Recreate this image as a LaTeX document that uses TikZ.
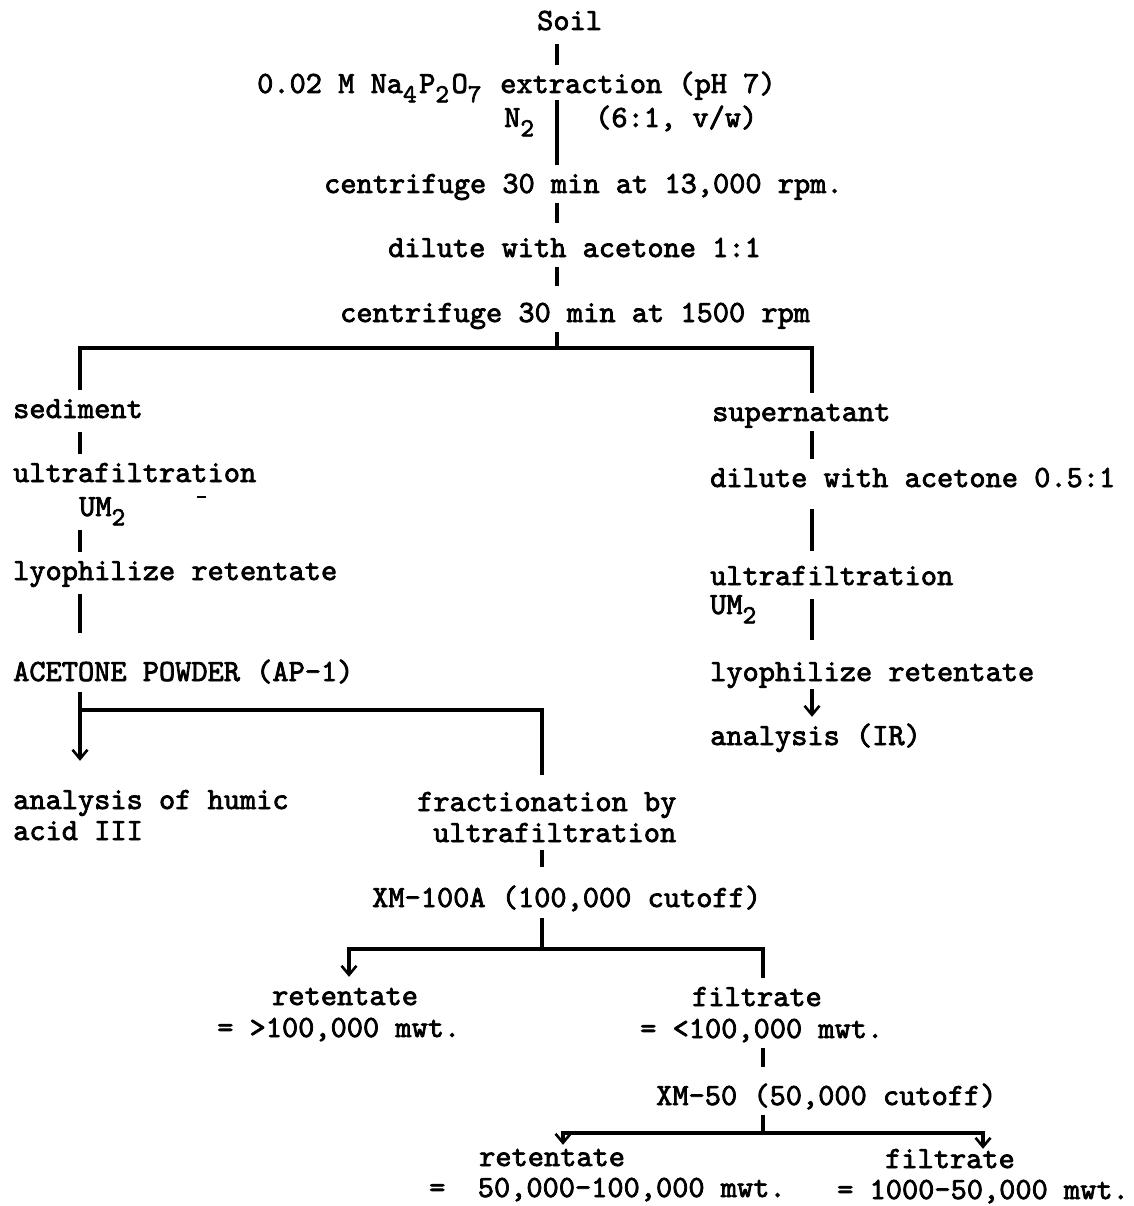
\documentclass[tikz,border=0pt]{standalone}
\usepackage{fontspec}
\newfontfamily\tw{lmmono10-regular.otf}[FakeBold=2.4]
\usetikzlibrary{arrows.meta}
% typewriter-style subscript: lowered, one full character cell wide
\newcommand\dn[1]{\raisebox{-0.3em}{\makebox[0.525em][l]{\fontsize{26}{26}\selectfont #1}}}
\begin{document}
\begin{tikzpicture}[x=1pt,y=-1pt,
  txt/.style={anchor=base west, inner xsep=0pt, inner ysep=6pt,
    text height=22pt, text depth=8pt,
    font=\tw\fontsize{30.86}{31}\selectfont},
  link/.style={line width=3.4pt},
  flow/.style={link, -{Straight Barb[length=9pt,width=15pt,line width=2.6pt]}}]
\useasboundingbox (0,0) rectangle (1133,1206);

% column positions of the vertical connectors
\coordinate (mx) at (557,0);
\coordinate (lx) at (80,0);
\coordinate (rx) at (812,0);
\coordinate (fx) at (542,0);
\coordinate (gx) at (763,0);
\coordinate (hx) at (349,0);
\coordinate (kx) at (563,0);
\coordinate (jx) at (983,0);
% heights of the branching bars
\coordinate (b1) at (0,348);
\coordinate (b2) at (0,710);
\coordinate (b3) at (0,949);
\coordinate (b4) at (0,1133);

% main trunk
\node[txt] (soil)  at (537,30)  {Soil};
\node[txt] (extr)  at (257,93)  {0.02 M Na\dn{4}P\dn{2}O\dn{7} extraction (pH 7)};
\node[txt] (n2)    at (504,127) {N\dn{2}};
\node[txt] (ratio) at (595,127) {(6:1, v/w)};
\node[txt] (cent1) at (324,193) {centrifuge 30 min at 13,000 rpm.};
\node[txt] (dil1)  at (388,257) {dilute with acetone 1:1};
\node[txt] (cent2) at (340,322) {centrifuge 30 min at 1500 rpm};

% sediment branch
\node[txt] (sed)  at (13,418) {sediment};
\node[txt] (uf1)  at (13,482) {ultrafiltration};
\node[txt] (um1)  at (79,516) {UM\dn{2}};
\node[txt] (lyo1) at (13,580) {lyophilize retentate};
\node[txt] (ap)   at (13,681) {ACETONE POWDER (AP-1)};
\node[txt] (hum1) at (13,809) {analysis of humic};
\node[txt] (hum2) at (13,840) {acid III};
\node[txt] (fr1)  at (417,811) {fractionation by};
\node[txt] (fr2)  at (433,842) {ultrafiltration};
\node[txt] (xm1)  at (372,907) {XM-100A (100,000 cutoff)};
\node[txt] (ra1)  at (272,1005) {retentate};
\node[txt] (rb1)  at (217,1037) {= >100,000 mwt.};
\node[txt] (fa1)  at (692,1006) {filtrate};
\node[txt] (fb1)  at (640,1038) {= <100,000 mwt.};
\node[txt] (xm2)  at (656,1105) {XM-50 (50,000 cutoff)};
\node[txt] (ra2)  at (479,1166) {retentate};
\node[txt] (rb2)  at (429,1197) {=~~50,000-100,000 mwt.};
\node[txt] (fa2)  at (885,1168) {filtrate};
\node[txt] (fb2)  at (837,1199) {= 1000-50,000 mwt.};

% supernatant branch
\node[txt] (sup)  at (712,421) {supernatant};
\node[txt] (dil2) at (710,487) {dilute with acetone 0.5:1};
\node[txt] (uf2)  at (710,585) {ultrafiltration};
\node[txt] (um2)  at (710,614) {UM\dn{2}};
\node[txt] (lyo2) at (710,681) {lyophilize retentate};
\node[txt] (ana)  at (710,745) {analysis (IR)};

% trunk connectors
\draw[link] (soil.south -| mx) -- (extr.north -| mx);
\draw[link, shorten <=-7pt] (extr.south -| mx) -- (cent1.north -| mx);
\draw[link, shorten <=-4pt, shorten >=6pt] (cent1.south -| mx) -- (dil1.north -| mx);
\draw[link, shorten <=-4pt, shorten >=8pt] (dil1.south -| mx) -- (cent2.north -| mx);
\draw[link, shorten <=-4pt] (cent2.south -| mx) -- (mx |- b1);
\draw[link] (sed.north -| lx) -- (lx |- b1) -- (rx |- b1) -- (sup.north -| rx);

% sediment side
\draw[link] (sed.south -| lx) -- (uf1.north -| lx);
\draw[link] (um1.south -| lx) -- (lyo1.north -| lx);
\draw[link, shorten >=20pt] (lyo1.south -| lx) -- (ap.north -| lx);
\draw[link, shorten <=-3pt, shorten >=8pt] (ap.south -| lx) -- (lx |- b2) -- (fx |- b2) -- (fr1.north -| fx);
\draw[flow, shorten >=20pt] (lx |- b2) -- (hum1.north -| lx);
\draw[link, shorten <=-6pt, shorten >=12pt] (fr2.south -| fx) -- (xm1.north -| fx);
\draw[link, shorten <=-3pt] (xm1.south -| fx) -- (fx |- b3);
\draw[flow] (fx |- b3) -- (hx |- b3) -- (ra1.north -| hx);
\draw[link] (fx |- b3) -- (gx |- b3) -- (fa1.north -| gx);
\draw[link, shorten <=-4pt, shorten >=10pt] (fb1.south -| gx) -- (xm2.north -| gx);
\draw[link, shorten <=-4pt] (xm2.south -| gx) -- (gx |- b4);
\draw[flow, shorten >=-7pt] (gx |- b4) -- (kx |- b4) -- (ra2.north -| kx);
\draw[flow, shorten >=-9pt] (gx |- b4) -- (jx |- b4) -- (fa2.north -| jx);

% supernatant side
\draw[link, shorten <=-4pt] (sup.south -| rx) -- (dil2.north -| rx);
\draw[link, shorten <=8pt, shorten >=6pt] (dil2.south -| rx) -- (uf2.north -| rx);
\draw[link, shorten >=13pt] (uf2.south -| rx) -- (lyo2.north -| rx);
\draw[flow, shorten <=-6pt] (lyo2.south -| rx) -- (ana.north -| rx);

% stray typebar mark beside the first UM2
\draw[line width=1.5pt] (197,497) -- (206,497);
\end{tikzpicture}
\end{document}
